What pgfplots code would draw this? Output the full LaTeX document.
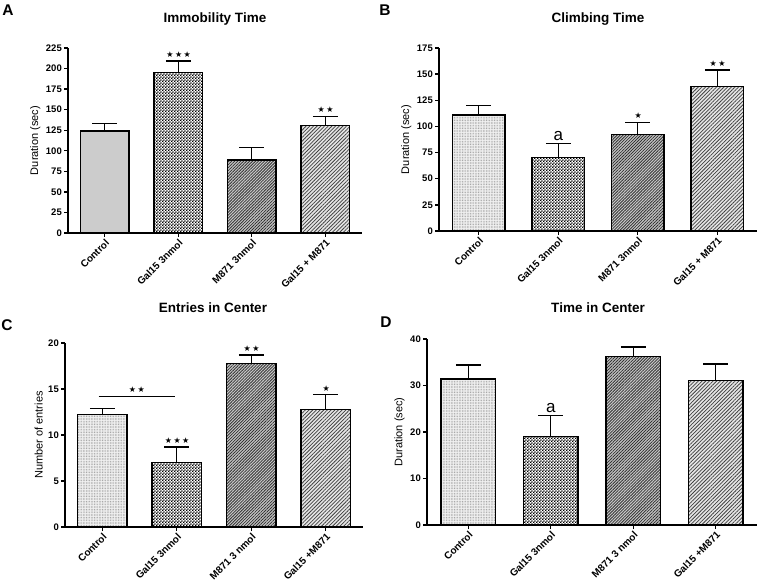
\documentclass[border=0pt]{standalone}
\usepackage{fontspec}
\setmainfont{Liberation Sans}
\newfontfamily\symfont{DejaVu Sans}
\usepackage{pgfplots}
\pgfplotsset{compat=1.18}
\usetikzlibrary{patterns,patterns.meta}

\pgfdeclarepattern{name=checker, type=uncolored,
  bottom left={\pgfpoint{0pt}{0pt}}, top right={\pgfpoint{3.2pt}{3.2pt}},
  tile size={\pgfpoint{3.2pt}{3.2pt}},
  code={\pgfpathrectangle{\pgfpoint{0pt}{0pt}}{\pgfpoint{1.6pt}{1.6pt}}%
        \pgfpathrectangle{\pgfpoint{1.6pt}{1.6pt}}{\pgfpoint{1.6pt}{1.6pt}}%
        \pgfusepath{fill}}}

\newcommand{\st}{\hspace{0.7pt}{\symfont\fontsize{8}{8}\selectfont ★}\hspace{0.7pt}}
\newcommand{\sone}{\st}
\newcommand{\stwo}{\st\st}
\newcommand{\sthree}{\st\st\st}

\pgfplotsset{
  panel/.style={
    scale only axis, anchor=south west, clip=false,
    axis lines=left, axis line style={-, line width=1.4pt, black},
    xmin=-0.5, xmax=3.5, ymin=0,
    xtick={0,1,2,3},
    tick align=outside, major tick length=4pt,
    tick style={line width=1.3pt, black},
    /pgf/number format/assume math mode=true,
    xticklabel style={rotate=45, anchor=north east, inner sep=1pt,
      font=\bfseries\fontsize{10}{11}\selectfont},
    yticklabel style={font=\bfseries\fontsize{9.5}{10}\selectfont, inner sep=2pt},
    ylabel style={font=\fontsize{11}{12}\selectfont},
    bar width=0.66,
  },
  barbase/.style={ybar, bar shift=0pt, draw=black, line width=1.4pt,
    error bars/y dir=plus, error bars/y explicit,
    error bars/error bar style={line width=1.3pt, black},
    error bars/error mark=-,
    error bars/error mark options={rotate=90, line width=1.3pt, black, mark size=12.5pt}},
  ctrlA/.style={barbase, fill=black!20},
  ctrl/.style={barbase, preaction={fill=black!6}, pattern={Dots[distance=1.6pt,radius=0.35pt]}, pattern color=black!55},
  gal/.style={barbase, preaction={fill=white}, pattern=checker, pattern color=black},
  mline/.style={barbase, preaction={fill=black!22}, pattern={Lines[angle=45,distance=2.1pt,line width=0.8pt]}, pattern color=black!80},
  comb/.style={barbase, preaction={fill=black!10}, pattern={Lines[angle=45,distance=2.6pt,line width=0.75pt]}, pattern color=black!75},
}

\begin{document}
\begin{tikzpicture}
\useasboundingbox (0pt,0pt) rectangle (759pt,583pt);

% ---------- A ----------
\begin{axis}[panel, at={(68pt,350pt)}, width=294pt, height=185pt,
  ymax=225, ytick={0,25,...,225},
  xticklabels={Control, Gal15 3nmol, M871 3nmol, Gal15 + M871},
  ylabel={Duration (sec)}]
\addplot[ctrlA] coordinates {(0,124) +- (0,9)};
\addplot[gal]   coordinates {(1,195) +- (0,14)};
\addplot[mline] coordinates {(2,89) +- (0,15)};
\addplot[comb]  coordinates {(3,131) +- (0,11)};
\node[anchor=base] at (axis cs:1,209) [yshift=3.5pt] {\sthree};
\node[anchor=base] at (axis cs:3,142) [yshift=3.5pt] {\stwo};
\end{axis}

% ---------- B ----------
\begin{axis}[panel, at={(439pt,352pt)}, width=318pt, height=183pt,
  ymax=175, ytick={0,25,...,175},
  xticklabels={Control, Gal15 3nmol, M871 3nmol, Gal15 + M871},
  ylabel={Duration (sec)}]
\addplot[ctrl]  coordinates {(0,111) +- (0,9)};
\addplot[gal]   coordinates {(1,70) +- (0,14)};
\addplot[mline] coordinates {(2,92) +- (0,12)};
\addplot[comb]  coordinates {(3,138) +- (0,16)};
\node[anchor=base, font=\fontsize{17}{17}\selectfont] at (axis cs:1,84) [yshift=3pt] {a};
\node[anchor=base] at (axis cs:2,104) [yshift=3.5pt] {\sone};
\node[anchor=base] at (axis cs:3,154) [yshift=3.5pt] {\stwo};
\end{axis}

% ---------- C ----------
\begin{axis}[panel, at={(65pt,56pt)}, width=298pt, height=184pt,
  ymax=20, ytick={0,5,...,20},
  xticklabels={Control, Gal15 3nmol, M871 3 nmol, Gal15 +M871},
  ylabel={Number of entries}]
\addplot[ctrl]  coordinates {(0,12.2) +- (0,0.7)};
\addplot[gal]   coordinates {(1,7.0) +- (0,1.7)};
\addplot[mline] coordinates {(2,17.8) +- (0,0.9)};
\addplot[comb]  coordinates {(3,12.8) +- (0,1.6)};
\addplot[black, line width=1pt, no marks] coordinates {(-0.05,14.2) (0.97,14.2)};
\node[anchor=base] at (axis cs:0.46,14.2) [yshift=3.5pt] {\stwo};
\node[anchor=base] at (axis cs:1,8.7) [yshift=3.5pt] {\sthree};
\node[anchor=base] at (axis cs:2,18.7) [yshift=3.5pt] {\stwo};
\node[anchor=base] at (axis cs:3,14.4) [yshift=3.5pt] {\sone};
\end{axis}

% ---------- D ----------
\begin{axis}[panel, at={(427pt,58pt)}, width=330pt, height=186pt,
  ymax=40, ytick={0,10,...,40},
  xticklabels={Control, Gal15 3nmol, M871 3 nmol, Gal15 +M871},
  ylabel={Duration (sec)}]
\addplot[ctrl]  coordinates {(0,31.4) +- (0,3.0)};
\addplot[gal]   coordinates {(1,19.0) +- (0,4.6)};
\addplot[mline] coordinates {(2,36.3) +- (0,2.0)};
\addplot[comb]  coordinates {(3,31.1) +- (0,3.5)};
\node[anchor=base, font=\fontsize{17}{17}\selectfont] at (axis cs:1,23.6) [yshift=3pt] {a};
\end{axis}

% titles and panel letters
\node[font=\bfseries\fontsize{13.5}{14}\selectfont] at (215pt,564pt) {Immobility Time};
\node[font=\bfseries\fontsize{13.5}{14}\selectfont] at (598pt,564pt) {Climbing Time};
\node[font=\bfseries\fontsize{13.5}{14}\selectfont] at (213pt,275pt) {Entries in Center};
\node[font=\bfseries\fontsize{13.5}{14}\selectfont] at (598pt,275pt) {Time in Center};
\node[font=\bfseries\fontsize{15.5}{16}\selectfont] at (8pt,573pt) {A};
\node[font=\bfseries\fontsize{15.5}{16}\selectfont] at (385pt,573pt) {B};
\node[font=\bfseries\fontsize{15.5}{16}\selectfont] at (7pt,258pt) {C};
\node[font=\bfseries\fontsize{15.5}{16}\selectfont] at (386pt,261pt) {D};
\end{tikzpicture}
\end{document}
